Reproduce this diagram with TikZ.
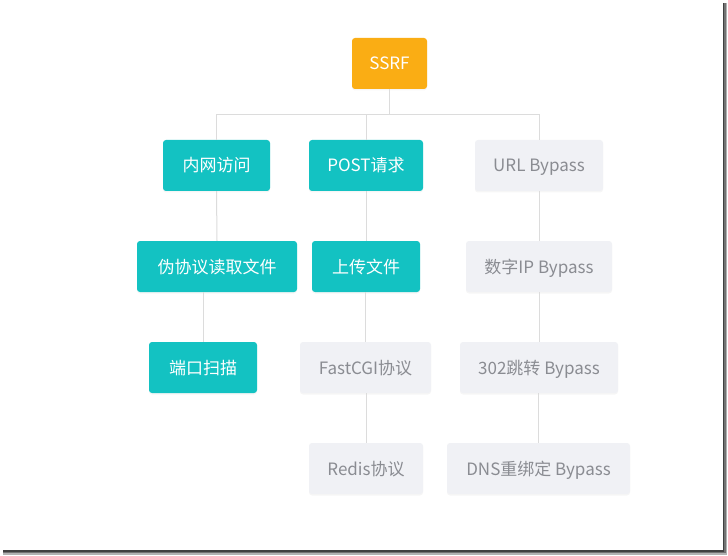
\documentclass[tikz,border=0pt]{standalone}
\usepackage{fontspec}
\setmainfont{Noto Sans CJK SC}
\usetikzlibrary{shadows}
\definecolor{tealc}{HTML}{13C2C2}
\definecolor{orangec}{HTML}{FAAD14}
\definecolor{grayfill}{HTML}{F0F1F5}
\definecolor{graytext}{HTML}{8A8C92}
\definecolor{edgec}{HTML}{DCDCDC}
\tikzset{
  basebox/.style={rectangle, rounded corners=3pt, minimum height=51pt, inner sep=0pt,
    font=\fontsize{17}{17}\selectfont, text height=13pt, text depth=0pt,
    drop shadow={opacity=0.07, shadow xshift=0pt, shadow yshift=-1.5pt}},
  rootbox/.style={basebox, fill=orangec, text=white},
  tealbox/.style={basebox, fill=tealc, text=white},
  graybox/.style={basebox, fill=grayfill, text=graytext},
  edge/.style={draw=edgec, line width=1pt}
}
\begin{document}
\begin{tikzpicture}[x=1pt, y=-1pt]
\useasboundingbox (0,0) rectangle (728,556);
\fill[white] (0,0) rectangle (728,556);
% frame shadow
\fill[black!75] (722.5,3) rectangle (724,551);
\fill[black!55] (724,3) rectangle (725.5,553);
\fill[black!30] (725.5,3) rectangle (727,554.5);
\fill[black!75] (3,550) rectangle (724,551.5);
\fill[black!55] (3,551.5) rectangle (725.5,553);
\fill[black!30] (3,553) rectangle (727,554.5);

\node[rootbox, minimum width=75pt] (ssrf) at (389.5,63.5) {SSRF};

\node[tealbox, minimum width=107pt] (n1) at (216.5,165.5) {内网访问};
\node[tealbox, minimum width=114pt] (n2) at (366,165.5) {POST请求};
\node[graybox, minimum width=128pt] (n3) at (539,165.5) {URL Bypass};

\node[tealbox, minimum width=160pt] (n4) at (217,266.5) {伪协议读取文件};
\node[tealbox, minimum width=108pt] (n5) at (366,266.5) {上传文件};
\node[graybox, minimum width=146pt] (n6) at (539,266.5) {数字IP Bypass};

\node[tealbox, minimum width=108pt] (n7) at (203,367.5) {端口扫描};
\node[graybox, minimum width=131pt] (n8) at (365.5,367.5) {FastCGI协议};
\node[graybox, minimum width=158pt] (n9) at (539,367.5) {302跳转 Bypass};

\node[graybox, minimum width=114pt] (n10) at (366,468.5) {Redis协议};
\node[graybox, minimum width=183pt] (n11) at (538.5,468.5) {DNS重绑定 Bypass};

\coordinate (bus) at (389.5,115);
\draw[edge] (ssrf.south) -- (bus);
\draw[edge] (bus) -| (n1.north);
\draw[edge] (bus) -| (n2.north);
\draw[edge] (bus) -| (n3.north);
\draw[edge] (n1.south) -- (n4.north);
\draw[edge] (n2.south) -- (n5.north);
\draw[edge] (n3.south) -- (n6.north);
\draw[edge] (n4.south -| n7.north) -- (n7.north);
\draw[edge] (n5.south -| n8.north) -- (n8.north);
\draw[edge] (n6.south -| n9.north) -- (n9.north);
\draw[edge] (n8.south -| n10.north) -- (n10.north);
\draw[edge] (n9.south -| n11.north) -- (n11.north);
\end{tikzpicture}
\end{document}
